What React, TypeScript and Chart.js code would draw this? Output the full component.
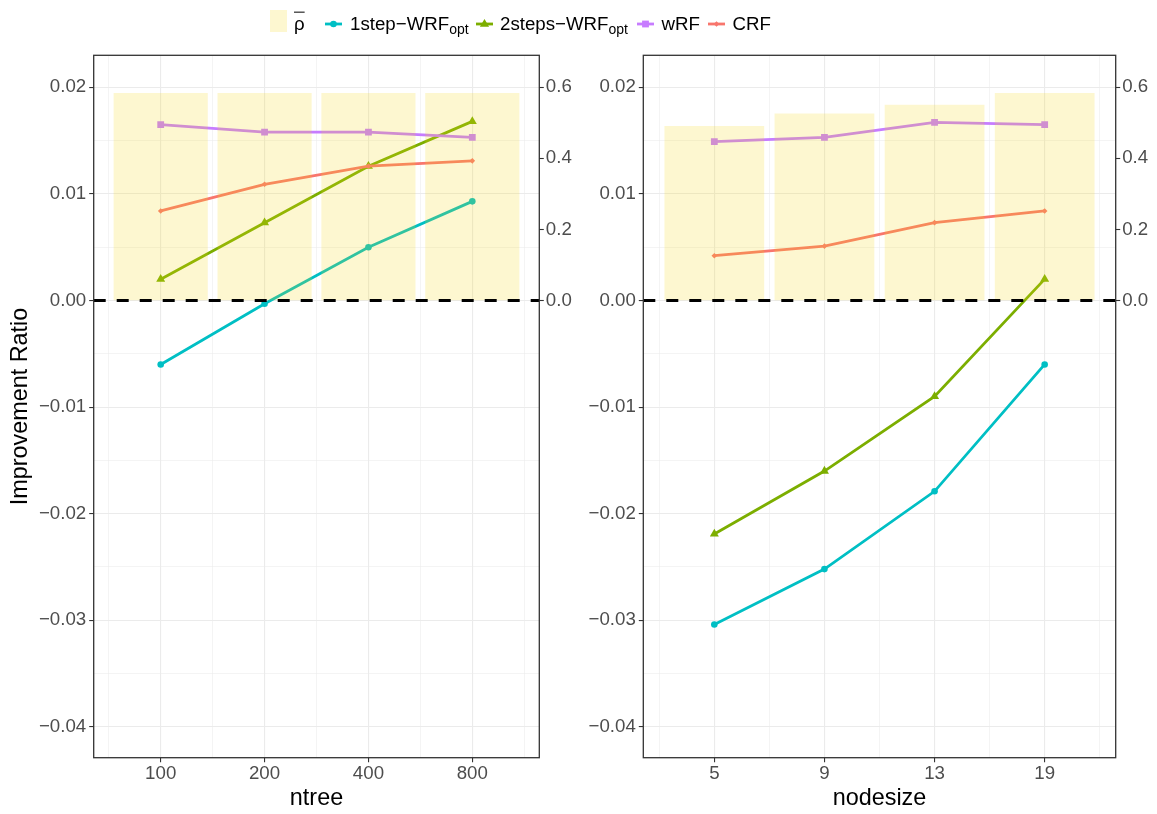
import React, { useEffect, useRef } from "react";
import { Chart, registerables } from "chart.js";
Chart.register(...registerables);

// ---------- data ----------
const ntreeCategories = ["100", "200", "400", "800"];
const ntreeRho = [0.583, 0.583, 0.583, 0.583];
const ntreeOneStep = [-0.006, -0.0003, 0.005, 0.0093];
const ntreeTwoSteps = [0.002, 0.0073, 0.0126, 0.0168];
const ntreeWRF = [0.0165, 0.0158, 0.0158, 0.0153];
const ntreeCRF = [0.0084, 0.0109, 0.0126, 0.0131];

const nodesizeCategories = ["5", "9", "13", "19"];
const nodesizeRho = [0.49, 0.525, 0.55, 0.583];
const nodesizeOneStep = [-0.0304, -0.0252, -0.0179, -0.006];
const nodesizeTwoSteps = [-0.0219, -0.016, -0.009, 0.002];
const nodesizeWRF = [0.0149, 0.0153, 0.0167, 0.0165];
const nodesizeCRF = [0.0042, 0.0051, 0.0073, 0.0084];

const yTickValues = [-0.04, -0.03, -0.02, -0.01, 0, 0.01, 0.02];
const yTickLabels = ["−0.04", "−0.03", "−0.02", "−0.01", "0.00", "0.01", "0.02"];
const rhoTickValues = [0, 0.2, 0.4, 0.6];
const rhoTickLabels = ["0.0", "0.2", "0.4", "0.6"];

// ---------- styles ----------
const FONT = "'Liberation Sans', Arial, Helvetica, sans-serif";
const COL_ONE = "#00BFC4";
const COL_TWO = "#7CAE00";
const COL_WRF = "#C77CFF";
const COL_CRF = "#F8766D";
const BAR_COL = "rgba(245,215,20,0.2)";
const GRID_COL = "#EBEBEB";
const AXIS_COL = "#333333";
const TICK_TEXT = "#4D4D4D";
const Y_MIN = -0.04289;
const Y_MAX = 0.023;
const RHO_FACTOR = 30;
const X_MIN = -0.645;
const X_MAX = 3.645;
const BAR_WIDTH = 0.9;
const TICK_FONT = 18.7;
const TITLE_FONT = 23.4;

const near = (a: number, b: number) => Math.abs(a - b) < 1e-9;

const panelPlugin = {
  id: "panelDecor",
  afterDatasetsDraw(chart: any) {
    const { ctx, chartArea, scales } = chart;
    const y0 = scales.y.getPixelForValue(0);
    ctx.save();
    ctx.beginPath();
    ctx.setLineDash([12, 11]);
    ctx.lineWidth = 3;
    ctx.strokeStyle = "#000000";
    ctx.moveTo(chartArea.left, y0);
    ctx.lineTo(chartArea.right, y0);
    ctx.stroke();
    ctx.restore();
  },
  afterDraw(chart: any) {
    const { ctx, chartArea } = chart;
    ctx.save();
    ctx.lineWidth = 1.3;
    ctx.strokeStyle = AXIS_COL;
    ctx.strokeRect(chartArea.left, chartArea.top, chartArea.right - chartArea.left, chartArea.bottom - chartArea.top);
    ctx.restore();
  },
};

type PanelProps = {
  categories: string[];
  rho: number[];
  oneStep: number[];
  twoSteps: number[];
  wrf: number[];
  crf: number[];
  xTitle: string;
  yTitle?: string;
  left: number;
  width: number;
  yWidth: number;
  y2Width: number;
};

function Panel(p: PanelProps) {
  const ref = useRef<HTMLCanvasElement>(null);
  useEffect(() => {
    if (!ref.current) return;
    const n = p.categories.length;
    const xGrid = p.categories.flatMap((_, i) => [i - 0.5, i]).concat([n - 0.5]);
    const yGrid = yTickValues.flatMap((v, i) =>
      i < yTickValues.length - 1 ? [v, (v + yTickValues[i + 1]) / 2] : [v]
    );
    const isMajorY = (v: number) => yTickValues.some((t) => near(t, v));
    const pts = (arr: number[]) => arr.map((v, i) => ({ x: i, y: v }));
    const lineDs = (label: string, data: number[], color: string, style: any, radius: number, order: number) => ({
      type: "line" as const,
      label,
      data: pts(data),
      xAxisID: "x",
      yAxisID: "y",
      borderColor: color,
      backgroundColor: color,
      borderWidth: 2.8,
      pointStyle: style,
      pointRadius: radius,
      pointBorderWidth: 0,
      pointBackgroundColor: color,
      tension: 0,
      order,
    });
    // bars: floating bars [x - w/2, x + w/2] drawn horizontally? No: use a custom plugin-free approach:
    // vertical bars on x scale with explicit width via barThickness computed from the scale.
    const chart = new Chart(ref.current, {
      type: "line",
      data: {
        datasets: [
          {
            type: "bar",
            label: "ρ̄",
            data: pts(p.rho),
            xAxisID: "x",
            yAxisID: "y2",
            backgroundColor: BAR_COL,
            borderWidth: 0,
            barPercentage: 1,
            categoryPercentage: 1,
            barThickness: (ctx: any) => {
              const s = ctx.chart.scales.x;
              return s ? Math.abs(s.getPixelForValue(BAR_WIDTH) - s.getPixelForValue(0)) : 10;
            },
            order: 0,
          } as any,
          lineDs("1step−WRFopt", p.oneStep, COL_ONE, "circle", 3.3, 4),
          lineDs("2steps−WRFopt", p.twoSteps, COL_TWO, "triangle", 5.2, 3),
          lineDs("wRF", p.wrf, COL_WRF, "rect", 4.8, 2),
          lineDs("CRF", p.crf, COL_CRF, "rectRot", 2.8, 1),
        ],
      },
      options: {
        animation: false,
        responsive: true,
        maintainAspectRatio: false,
        layout: { padding: { top: 55.3, left: 0, right: 0, bottom: 0 } },
        plugins: { legend: { display: false }, tooltip: { enabled: false } },
        scales: {
          x: {
            type: "linear",
            position: "bottom",
            offset: false,
            min: X_MIN,
            max: X_MAX,
            afterBuildTicks: (s: any) => {
              s.ticks = xGrid.map((v) => ({ value: v }));
            },
            afterFit: (s: any) => {
              s.height = 56.3;
            },
            ticks: {
              autoSkip: false,
              maxRotation: 0,
              minRotation: 0,
              padding: 0.5,
              color: TICK_TEXT,
              font: { family: FONT, size: TICK_FONT },
              callback: (v: any) => (Number.isInteger(v) ? p.categories[v] : ""),
            },
            grid: {
              offset: false,
              color: GRID_COL,
              lineWidth: (c: any) => (c.tick && Number.isInteger(c.tick.value) ? 1.1 : 0.55),
              tickColor: (c: any) => (c.tick && Number.isInteger(c.tick.value) ? AXIS_COL : "rgba(0,0,0,0)"),
              tickLength: 4.5,
              tickWidth: 1.1,
            },
            border: { display: false },
            title: {
              display: true,
              text: p.xTitle,
              color: "#000000",
              font: { family: FONT, size: TITLE_FONT },
              padding: { top: 0, bottom: 1.4 },
            },
          },
          y: {
            type: "linear",
            position: "left",
            min: Y_MIN,
            max: Y_MAX,
            afterBuildTicks: (s: any) => {
              s.ticks = yGrid.map((v) => ({ value: v }));
            },
            afterFit: (s: any) => {
              s.width = p.yWidth;
            },
            ticks: {
              autoSkip: false,
              padding: 3,
              color: TICK_TEXT,
              font: { family: FONT, size: TICK_FONT },
              callback: (v: any) => {
                const i = yTickValues.findIndex((t) => near(t, v));
                return i >= 0 ? yTickLabels[i] : "";
              },
            },
            grid: {
              color: GRID_COL,
              lineWidth: (c: any) => (c.tick && isMajorY(c.tick.value) ? 1.1 : 0.55),
              tickColor: (c: any) => (c.tick && isMajorY(c.tick.value) ? AXIS_COL : "rgba(0,0,0,0)"),
              tickLength: 4.5,
              tickWidth: 1.1,
            },
            border: { display: false },
            title: {
              display: !!p.yTitle,
              text: p.yTitle || "",
              color: "#000000",
              font: { family: FONT, size: TITLE_FONT },
              padding: { top: 7, bottom: 0 },
            },
          },
          y2: {
            type: "linear",
            position: "right",
            min: Y_MIN * RHO_FACTOR,
            max: Y_MAX * RHO_FACTOR,
            afterBuildTicks: (s: any) => {
              s.ticks = rhoTickValues.map((v) => ({ value: v }));
            },
            afterFit: (s: any) => {
              s.width = p.y2Width;
            },
            ticks: {
              autoSkip: false,
              padding: 2,
              color: TICK_TEXT,
              font: { family: FONT, size: TICK_FONT },
              callback: (v: any) => {
                const i = rhoTickValues.findIndex((t) => near(t, v));
                return i >= 0 ? rhoTickLabels[i] : "";
              },
            },
            grid: {
              drawOnChartArea: false,
              color: AXIS_COL,
              tickColor: AXIS_COL,
              tickLength: 4.5,
              tickWidth: 1.1,
            },
            border: { display: false },
          },
        },
      } as any,
      plugins: [panelPlugin],
    });
    return () => chart.destroy();
  }, []);
  return (
    <div style={{ position: "absolute", left: p.left, top: 0, width: p.width, height: 814 }}>
      <canvas ref={ref} />
    </div>
  );
}

function LineKey({ x, color, shape }: { x: number; color: string; shape: string }) {
  const cx = 8.5;
  const cy = 8;
  let marker: any = null;
  if (shape === "circle") marker = <circle cx={cx} cy={cy} r={3.3} fill={color} />;
  if (shape === "triangle")
    marker = <polygon points={`${cx},${cy - 5} ${cx + 4.6},${cy + 2.8} ${cx - 4.6},${cy + 2.8}`} fill={color} />;
  if (shape === "square") marker = <rect x={cx - 3.4} y={cy - 3.4} width={6.8} height={6.8} fill={color} />;
  if (shape === "diamond")
    marker = <polygon points={`${cx},${cy - 2.8} ${cx + 2.8},${cy} ${cx},${cy + 2.8} ${cx - 2.8},${cy}`} fill={color} />;
  return (
    <svg width={17} height={16} style={{ position: "absolute", left: x, top: 16 }}>
      <line x1={0} y1={cy} x2={17} y2={cy} stroke={color} strokeWidth={2.8} />
      {marker}
    </svg>
  );
}

function LegendText({ x, main, sub, overline }: { x: number; main: string; sub?: string; overline?: boolean }) {
  return (
    <div
      style={{
        position: "absolute",
        left: x,
        top: 24,
        transform: "translateY(-50%)",
        fontFamily: FONT,
        fontSize: TICK_FONT,
        lineHeight: 1,
        color: "#000000",
        whiteSpace: "nowrap",
      }}
    >
      <span style={{ textDecoration: overline ? "overline" : "none" }}>{main}</span>
      {sub ? <span style={{ fontSize: 14, position: "relative", top: 4 }}>{sub}</span> : null}
    </div>
  );
}

function Legend() {
  return (
    <div style={{ position: "absolute", left: 0, top: 0, width: 1157, height: 48 }}>
      <div style={{ position: "absolute", left: 270, top: 10, width: 17, height: 22, background: "rgb(253,247,208)" }} />
      <LegendText x={294} main="ρ" overline />
      <LineKey x={325} color={COL_ONE} shape="circle" />
      <LegendText x={350} main="1step−WRF" sub="opt" />
      <LineKey x={476} color={COL_TWO} shape="triangle" />
      <LegendText x={500} main="2steps−WRF" sub="opt" />
      <LineKey x={636.5} color={COL_WRF} shape="square" />
      <LegendText x={661.5} main="wRF" />
      <LineKey x={707.5} color={COL_CRF} shape="diamond" />
      <LegendText x={732.5} main="CRF" />
    </div>
  );
}

export default function App() {
  return (
    <div style={{ position: "absolute", left: 0, top: 0, width: 1157, height: 814, background: "#ffffff" }}>
      <Panel
        categories={ntreeCategories}
        rho={ntreeRho}
        oneStep={ntreeOneStep}
        twoSteps={ntreeTwoSteps}
        wrf={ntreeWRF}
        crf={ntreeCRF}
        xTitle="ntree"
        yTitle="Improvement Ratio"
        left={0}
        width={580}
        yWidth={93.7}
        y2Width={40.7}
      />
      <Panel
        categories={nodesizeCategories}
        rho={nodesizeRho}
        oneStep={nodesizeOneStep}
        twoSteps={nodesizeTwoSteps}
        wrf={nodesizeWRF}
        crf={nodesizeCRF}
        xTitle="nodesize"
        left={580}
        width={577}
        yWidth={63.3}
        y2Width={41.3}
      />
      <Legend />
    </div>
  );
}
